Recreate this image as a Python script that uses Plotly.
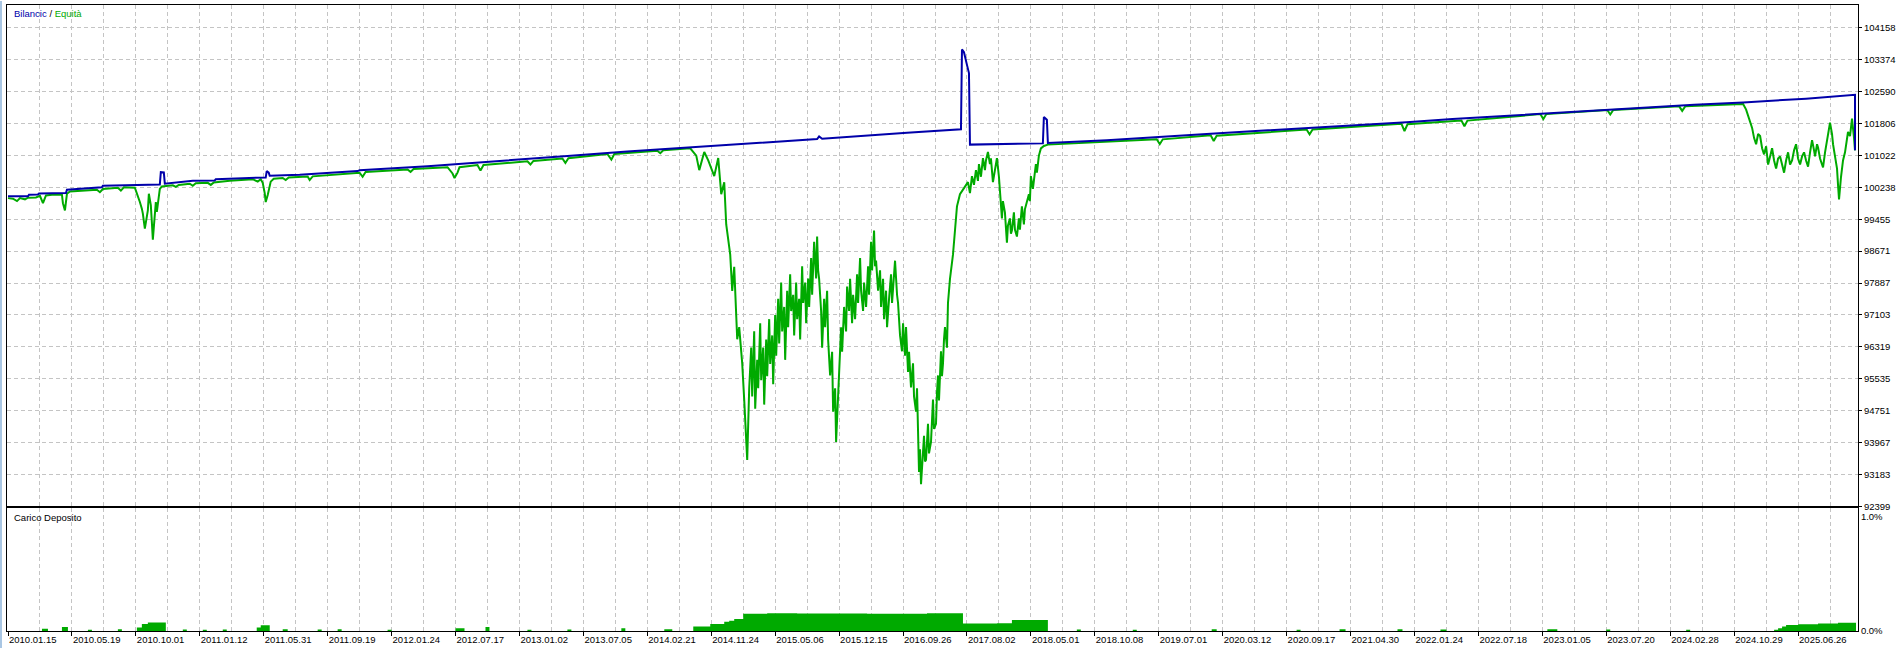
import plotly.graph_objects as go

# ---------------- data ----------------
date_labels = ["2010.01.15", "2010.05.19", "2010.10.01", "2011.01.12", "2011.05.31",
               "2011.09.19", "2012.01.24", "2012.07.17", "2013.01.02", "2013.07.05",
               "2014.02.21", "2014.11.24", "2015.05.06", "2015.12.15", "2016.09.26",
               "2017.08.02", "2018.05.01", "2018.10.08", "2019.07.01", "2020.03.12",
               "2020.09.17", "2021.04.30", "2022.01.24", "2022.07.18", "2023.01.05",
               "2023.07.20", "2024.02.28", "2024.10.29", "2025.06.26"]

y_ticks = [104158, 103374, 102590, 101806, 101022, 100238, 99455, 98671, 97887,
           97103, 96319, 95535, 94751, 93967, 93183, 92399]

# balance (Bilancic): deal index -> value
bal_u = [0, 20, 21, 30, 31, 58, 59, 94, 95, 152, 153, 156, 157, 172, 185, 207, 208, 235,
         258, 259, 261, 262, 292, 350, 352, 420, 480, 482, 560, 620, 683, 750, 810, 812,
         815, 900, 954, 955, 957, 960, 962, 963, 1036, 1037, 1040, 1041, 1100, 1204, 1300,
         1325, 1400, 1446, 1500, 1567, 1620, 1688, 1737, 1800, 1849, 1849]
bal_v = [100018, 100020, 100059, 100065, 100091, 100100, 100181, 100240, 100280, 100311,
         100613, 100605, 100329, 100375, 100400, 100410, 100440, 100466, 100480, 100640,
         100600, 100525, 100548, 100640, 100660, 100760, 100860, 100880, 101010, 101120,
         101227, 101330, 101425, 101490, 101435, 101580, 101665, 103630, 103560, 103250,
         103050, 101290, 101320, 101970, 101900, 101330, 101400, 101560, 101700, 101720,
         101840, 101920, 102000, 102100, 102180, 102270, 102326, 102420, 102516, 101150]

# equity (Equità), 2010-2011
eq_u_2010 = [0, 5, 9, 12, 17, 20, 28, 32, 35, 38,
             44, 54, 55, 57, 59, 62, 89, 92, 95, 110,
             113, 116, 127, 130, 132, 134, 135, 137, 139, 140,
             141, 143, 144, 145, 146, 148, 149, 151, 152, 154,
             165, 168, 171, 182, 185, 188, 200, 203, 206, 222,
             239, 245, 250, 253, 255, 257, 258, 260, 263, 266,
             275, 278, 281, 292]
eq_v_2010 = [99975, 99960, 99902, 99975, 99945, 99985, 99990, 100030, 99854, 100040,
             100055, 100060, 99850, 99674, 100080, 100140, 100180, 100120, 100200, 100230,
             100160, 100240, 100230, 100042, 99879, 99716, 99593, 99226, 99512, 99674,
             100083, 99797, 99389, 98956, 99267, 99879, 99634, 100083, 100200, 100262,
             100290, 100250, 100300, 100330, 100280, 100340, 100350, 100300, 100360, 100400,
             100420, 100440, 100380, 100440, 100350, 100100, 99878, 100050, 100380, 100450,
             100470, 100420, 100480, 100505]

# equity, 2011-2014
eq_u_2012 = [300, 302, 305, 352, 355, 358, 400, 403, 406, 440,
             445, 447, 450, 452, 470, 473, 476, 520, 523, 526,
             555, 558, 561, 600, 604, 607, 650, 653, 656]
eq_v_2012 = [100505, 100420, 100510, 100600, 100500, 100615, 100680, 100620, 100690, 100735,
             100580, 100470, 100600, 100735, 100790, 100650, 100790, 100880, 100800, 100890,
             100950, 100840, 100955, 101060, 100920, 101060, 101140, 101080, 101150]

# equity, 2014-2018 drawdown
eq_u_2015 = [683, 689, 692, 697, 701, 707, 711, 714, 717, 719,
             723, 725, 727, 730, 732, 735, 737, 740, 742, 744,
             745, 747, 748, 750, 751, 753, 754, 756, 757, 759,
             760, 762, 763, 765, 766, 768, 769, 771, 772, 774,
             775, 777, 778, 780, 781, 783, 784, 786, 787, 789,
             790, 792, 793, 795, 796, 798, 799, 801, 802, 804,
             805, 807, 809, 810, 811, 812, 814, 815, 817, 818,
             820, 821, 823, 825, 826, 828, 829, 831, 832, 834,
             835, 837, 839, 840, 842, 843, 845, 846, 848, 850,
             851, 853, 854, 856, 857, 859, 861, 862, 864, 865,
             867, 868, 869, 871, 873, 874, 876, 877, 879, 880,
             882, 884, 885, 887, 888, 890, 891, 893, 895, 896,
             898, 899, 901, 902, 904, 906, 907, 909, 910, 912,
             913, 914, 916, 917, 918, 919, 921, 922, 924, 925,
             926, 927, 929, 930, 931, 932, 934, 935, 936, 937,
             938, 940, 941, 943, 946, 948, 950, 953, 957, 961,
             963, 965, 967, 969, 971, 972, 974, 976, 978, 979,
             981, 983, 984, 986, 988, 990, 992, 993, 995, 996,
             998, 1000, 1001, 1003, 1004, 1005, 1007, 1008, 1010, 1012,
             1013, 1015, 1017, 1018, 1020, 1022, 1023, 1024, 1026, 1027,
             1029, 1030, 1032, 1034, 1037]
eq_v_2015 = [101198, 101020, 100663, 101109, 100901, 100515, 100960, 100070, 100366, 99328,
             98585, 97695, 98288, 96507, 96804, 95913, 95023, 93538, 95300, 96300,
             95100, 96700, 94800, 96000, 95300, 96900, 95500, 96300, 94900, 96500,
             95600, 97000, 95900, 96600, 95400, 97100, 96100, 97500, 96400, 97900,
             96700, 97300, 96000, 97700, 96800, 98100, 97200, 97600, 96600, 97900,
             97000, 97500, 96500, 98300, 97400, 97900, 96900, 98000, 97300, 98500,
             97600, 98900, 98000, 99030, 98200, 97991, 97200, 96300, 97500, 96800,
             97700, 96500, 95617, 96200, 94726, 95300, 93984, 95100, 95617, 96800,
             96200, 97300, 96700, 97800, 97200, 97991, 96900, 97600, 97000, 98100,
             97400, 98500, 97700, 97200, 97900, 97300, 98300, 97600, 98900, 98200,
             99179, 98300, 98437, 97700, 98200, 97300, 97991, 97000, 97700, 96804,
             97500, 98100, 97400, 98300, 98437, 97600, 97398, 96600, 96210, 96900,
             96100, 96804, 95700, 96200, 95320, 95913, 95100, 94726, 95300, 93242,
             93800, 92945, 93900, 94132, 93500, 93538, 94429, 93700, 93984, 94700,
             95023, 94300, 94429, 95200, 95617, 95000, 96210, 95600, 95913, 96500,
             96804, 96300, 97398, 97991, 98585, 99179, 99773, 100070, 100218, 100367,
             100100, 100515, 100300, 100663, 100400, 100812, 100500, 100960, 100663, 100900,
             101109, 100812, 100950, 100367, 100663, 100960, 100500, 100070, 99476, 99900,
             99624, 98882, 99300, 99476, 99100, 99179, 99624, 99200, 99031, 99476,
             99200, 99773, 99328, 99700, 99921, 100070, 99900, 100515, 100200, 100367,
             100812, 100600, 101020, 101198, 101257]

# equity, 2018-2024
eq_u_2020 = [1041, 1100, 1150, 1153, 1156, 1204, 1207, 1210, 1300, 1303,
             1306, 1395, 1398, 1401, 1455, 1458, 1461, 1534, 1537, 1540,
             1601, 1604, 1607, 1673, 1676, 1679]
eq_v_2020 = [101290, 101360, 101420, 101300, 101420, 101520, 101380, 101510, 101660, 101540,
             101660, 101800, 101620, 101790, 101880, 101740, 101880, 102040, 101920, 102040,
             102140, 102030, 102140, 102230, 102120, 102230]

# equity, 2024-2025
eq_u_2025 = [1737, 1740, 1742, 1744, 1746, 1748, 1750, 1752, 1754, 1756,
             1758, 1760, 1762, 1764, 1766, 1768, 1770, 1772, 1774, 1776,
             1778, 1780, 1782, 1784, 1786, 1788, 1790, 1792, 1794, 1796,
             1798, 1800, 1802, 1804, 1806, 1808, 1809, 1811, 1812, 1814,
             1817, 1819, 1822, 1824, 1826, 1827, 1829, 1831, 1832, 1833,
             1835, 1837, 1839, 1840, 1842, 1844, 1845, 1846, 1848, 1849]
eq_v_2025 = [102290, 102150, 102000, 101850, 101700, 101450, 101300, 101550, 101500, 101200,
             101050, 101250, 100800, 101000, 101200, 100900, 100700, 100950, 101000, 100800,
             100600, 100900, 101100, 100800, 100900, 101150, 101300, 100950, 100800, 101000,
             101100, 100900, 100750, 101100, 101400, 101150, 101000, 101300, 101218, 100950,
             100728, 101100, 101500, 101830, 101550, 101300, 101000, 100700, 100300, 99944,
             100500, 100900, 101100, 101300, 101600, 101500, 101806, 101928, 101463, 101150]

# deposit load (Carico Deposito), percent, step series
load_u = [0, 34, 40, 54, 60, 80, 84, 110, 114, 129, 134, 140, 158, 175, 179, 195, 199, 215,
          219, 249, 253, 262, 275, 280, 310, 314, 330, 334, 380, 384, 448, 457, 478, 482, 520,
          524, 560, 564, 614, 618, 657, 665, 686, 703, 717, 722, 727, 736, 760, 790, 860, 920,
          956, 990, 1005, 1041, 1070, 1074, 1126, 1130, 1205, 1210, 1290, 1294, 1333, 1339,
          1391, 1396, 1434, 1440, 1541, 1551, 1600, 1604, 1680, 1684, 1768, 1772, 1776, 1780,
          1792, 1812, 1832, 1850]
load_pct = [0, 0.02, 0, 0.035, 0, 0.01, 0, 0.015, 0, 0.03, 0.06, 0.075, 0, 0.012, 0, 0.01,
            0, 0.012, 0, 0.03, 0.05, 0, 0.015, 0, 0.012, 0, 0.015, 0, 0.01, 0, 0.025, 0,
            0.035, 0, 0.01, 0, 0.012, 0, 0.025, 0, 0.015, 0, 0.04, 0.06, 0.08, 0.09, 0.105,
            0.15, 0.155, 0.152, 0.15, 0.155, 0.065, 0.068, 0.095, 0, 0.012, 0, 0.01, 0, 0.015,
            0, 0.01, 0, 0.015, 0, 0.015, 0, 0.012, 0, 0.015, 0, 0.012, 0, 0.01, 0, 0.01,
            0.025, 0.04, 0.052, 0.058, 0.065, 0.072, 0]

eq_u = eq_u_2010 + eq_u_2012 + eq_u_2015 + eq_u_2020 + eq_u_2025
eq_v = eq_v_2010 + eq_v_2012 + eq_v_2015 + eq_v_2020 + eq_v_2025

# ---------------- styling / layout constants ----------------
W, H = 1900, 649
ML, MR, MT, MB = 7, 40, 4, 17
PW, PH = W - ML - MR, H - MT - MB
LABEL_STEP = 64
GRID_STEP = 32
GREEN = "#00aa00"
BLUE = "#0000aa"
GRID = "#c4c4c4"
DASH = "4px,3px"
FONT = dict(family="Liberation Sans, Arial, sans-serif", size=9.5, color="#000000")

main_bottom_px = 507
lower_top_px = 509
main_dom = [(H - MB - main_bottom_px) / PH, 1]
lower_dom = [0, (H - MB - lower_top_px) / PH]
y_top = y_ticks[0] + (27 - MT) * (y_ticks[0] - y_ticks[1]) / GRID_STEP
y_range = [y_ticks[-1] - 1, y_top]

fig = go.Figure()
fig.add_trace(go.Scatter(x=eq_u, y=eq_v, mode="lines", line=dict(color=GREEN, width=2),
                         xaxis="x", yaxis="y", hoverinfo="skip"))
fig.add_trace(go.Scatter(x=bal_u, y=bal_v, mode="lines", line=dict(color=BLUE, width=2),
                         xaxis="x", yaxis="y", hoverinfo="skip"))
fig.add_trace(go.Scatter(x=load_u, y=load_pct, mode="lines",
                         line=dict(color=GREEN, width=0, shape="hv"),
                         fill="tozeroy", fillcolor=GREEN, xaxis="x2", yaxis="y2",
                         hoverinfo="skip"))

tickvals = [i * LABEL_STEP for i in range(len(date_labels))]
x_common = dict(range=[-1, PW - 1], showgrid=True, gridcolor=GRID, griddash=DASH,
                gridwidth=1, tickvals=tickvals, zeroline=False, showline=True,
                mirror=True, linecolor="#000000", linewidth=1,
                minor=dict(dtick=GRID_STEP, tick0=0, showgrid=True, gridcolor=GRID,
                           griddash=DASH, gridwidth=1))

fig.update_layout(
    width=W, height=H,
    margin=dict(l=ML, r=MR, t=MT, b=MB, pad=0),
    paper_bgcolor="#ffffff", plot_bgcolor="#ffffff",
    showlegend=False,
    font=FONT,
    xaxis=dict(**x_common, anchor="y", domain=[0, 1], showticklabels=False, ticks=""),
    xaxis2=dict(**x_common, anchor="y2", domain=[0, 1], matches="x",
                ticktext=date_labels, ticks="outside", ticklen=4, tickcolor="#000000",
                ticklabelposition="outside right", tickfont=FONT),
    yaxis=dict(domain=main_dom, range=y_range, anchor="x", side="right",
               tickvals=y_ticks, ticktext=[str(v) for v in y_ticks],
               ticks="outside", ticklen=3, tickcolor="#000000", tickfont=FONT,
               showgrid=True, gridcolor=GRID, griddash=DASH, gridwidth=1,
               zeroline=False, showline=True, mirror=True, linecolor="#000000",
               linewidth=1),
    yaxis2=dict(domain=lower_dom, range=[0, 1.07], anchor="x2", side="right",
                tickvals=[0, 1.0], ticktext=["0.0%", "1.0%"], ticks="", tickfont=FONT,
                showgrid=False, zeroline=False, showline=True, mirror=True,
                linecolor="#000000", linewidth=1),
    annotations=[
        dict(xref="paper", yref="paper", x=5 / PW, y=(H - MB - 13) / PH,
             xanchor="left", yanchor="middle", showarrow=False,
             text='<span style="color:%s">Bilancic</span> / '
                  '<span style="color:%s">Equità</span>' % (BLUE, GREEN),
             font=FONT),
        dict(xref="paper", yref="paper", x=5 / PW, y=(H - MB - 518) / PH,
             xanchor="left", yanchor="middle", showarrow=False,
             text="Carico Deposito", font=FONT),
    ],
    shapes=[
        dict(type="rect", xref="paper", yref="paper", x0=-ML / PW, x1=-(ML - 2) / PW,
             y0=-MB / PH, y1=1 + MT / PH, fillcolor="#a9c6e3", line=dict(width=0),
             layer="above"),
    ],
)

# remove the browser's default body margin so the figure sits at the page origin
fig.write_html("out.html",
               config={"displayModeBar": False},
               post_script="document.body.style.margin='0';"
                           "document.body.style.overflow='hidden';")
